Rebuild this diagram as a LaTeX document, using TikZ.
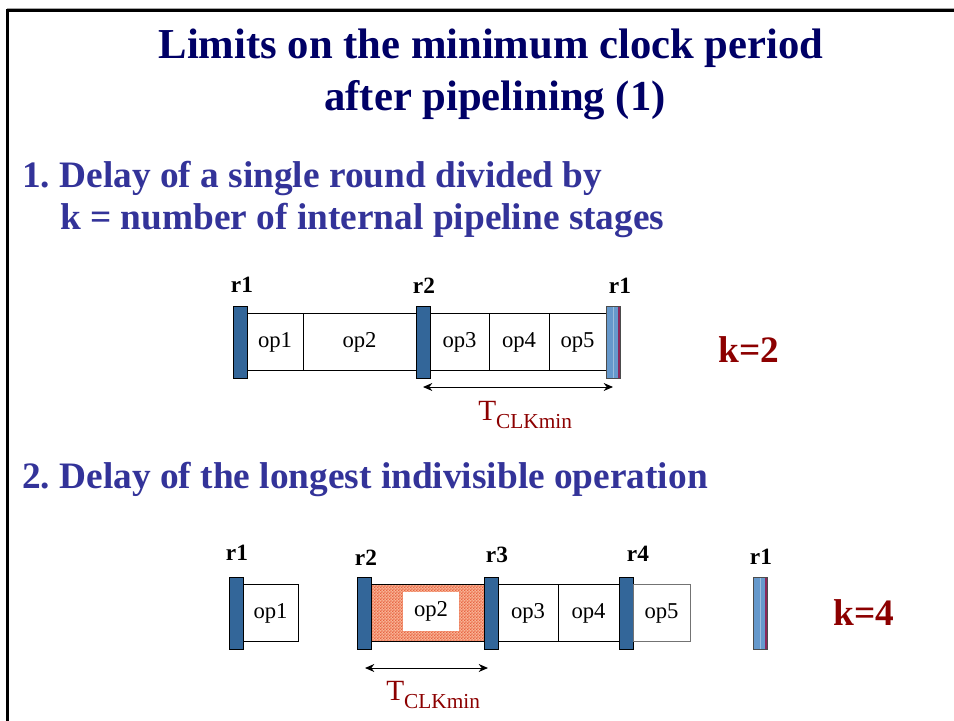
\documentclass[tikz,border=0pt]{standalone}
\usepackage{fontspec}
\setmainfont{Liberation Serif}
\usetikzlibrary{arrows.meta,patterns,positioning}
\definecolor{regblue}{RGB}{51,102,153}
\definecolor{reglight}{RGB}{102,153,204}
\definecolor{regstrip}{RGB}{140,40,90}
\definecolor{titleblue}{RGB}{0,0,102}
\definecolor{itemblue}{RGB}{51,51,153}
\definecolor{darkred}{RGB}{140,0,0}
\definecolor{hatchbg}{RGB}{248,180,150}
\definecolor{hatchfg}{RGB}{232,100,65}
\pgfdeclarepatternformonly{finechecker}{\pgfpointorigin}{\pgfqpoint{2.4pt}{2.4pt}}{\pgfqpoint{2.4pt}{2.4pt}}{%
  \pgfpathrectangle{\pgfpointorigin}{\pgfqpoint{1.2pt}{1.2pt}}%
  \pgfpathrectangle{\pgfqpoint{1.2pt}{1.2pt}}{\pgfqpoint{1.2pt}{1.2pt}}%
  \pgfusepath{fill}}
\newcommand{\tclk}{{\fontsize{22}{26}\selectfont T}\raisebox{-6pt}{\fontsize{16}{19}\selectfont CLKmin}}
\frenchspacing

\begin{document}
\begin{tikzpicture}[x=0.75pt,y=-0.75pt,
  reg/.style={draw=black,fill=regblue,line width=0.6pt,inner sep=0pt,outer sep=0pt,minimum width=10.5pt,minimum height=54pt,anchor=west},
  reglast/.style={reg,fill=reglight,draw=black!70,path picture={
      \fill[regstrip] ([xshift=-1.4pt]path picture bounding box.north east) rectangle (path picture bounding box.south east);
      \draw[white!35!reglight,line width=0.4pt] (path picture bounding box.north) -- (path picture bounding box.south);}},
  op/.style={draw=black,fill=white,line width=0.6pt,inner sep=0pt,outer sep=0pt,minimum height=42.75pt,anchor=west,font=\fontsize{17}{20}\selectfont},
  hatch/.style={draw=black,line width=0.6pt,inner sep=0pt,outer sep=0pt,minimum height=42.75pt,anchor=west,preaction={fill=hatchbg},pattern=finechecker,pattern color=hatchfg},
  reglabel/.style={anchor=base,inner sep=0pt,font=\fontsize{17.5}{20}\selectfont\bfseries},
  klabel/.style={anchor=base,inner sep=0pt,text=darkred,font=\fontsize{28}{32}\selectfont\bfseries},
  tlabel/.style={anchor=base west,inner sep=0pt,text=darkred},
  item/.style={anchor=base west,inner sep=0pt,text=itemblue,font=\fontsize{28}{32}\selectfont\bfseries},
  dim/.style={{Stealth[length=7pt,width=6pt]}-{Stealth[length=7pt,width=6pt]},line width=0.75pt}]
\useasboundingbox (0,0) rectangle (954,721);
\draw[black!35,line width=0.75pt] (7,8) -- (954,8);
\draw[line width=2.25pt] (7,721) -- (7,10) -- (954,10);
\node[anchor=base,inner sep=0pt,text=titleblue,font=\fontsize{32}{38}\selectfont\bfseries] (title1) at (491,58) {Limits on the minimum clock period};
\node[anchor=base,inner sep=0pt,text=titleblue,font=\fontsize{32}{38}\selectfont\bfseries] (title2) at (495,110) {after pipelining (1)};
\node[item] (item1) at (22,187) {1. Delay of a single round divided by};
\node[item] (item1b) at (60,229) {k = number of internal pipeline stages};
\node[item] (item2) at (22,488) {2. Delay of the longest indivisible operation};
% one round, two stages
\node[reg] (ar1) at (233,342) {};
\node[op,minimum width=42pt,right=0pt of ar1] (aop1) {op1};
\node[op,minimum width=84.75pt,right=0pt of aop1] (aop2) {op2};
\node[reg,right=0pt of aop2] (ar2) {};
\node[op,minimum width=44.25pt,right=0pt of ar2] (aop3) {op3};
\node[op,minimum width=45pt,right=0pt of aop3] (aop4) {op4};
\node[op,minimum width=42.75pt,right=0pt of aop4] (aop5) {op5};
\node[reglast,right=0pt of aop5] (ar1b) {};
\node[reglabel] (lar1) at (242,292) {r1};
\node[reglabel] (lar2) at (424,293) {r2};
\node[reglabel] (lar1b) at (620,293) {r1};
\coordinate (ta) at (423,387);
\coordinate (tb) at (613,387);
\draw[dim] (ta) -- (tb);
\node[tlabel] (tclka) at (478,420) {\tclk};
\node[klabel] (k2) at (749,362) {k=2};
% four stages
\node[reg] (br1) at (229,613) {};
\node[op,minimum width=41.25pt,right=0pt of br1] (bop1) {op1};
\node[reg] (br2) at (357,613) {};
\node[hatch,minimum width=84.75pt,right=0pt of br2] (bop2) {};
\node[fill=white,inner sep=0pt,minimum width=42pt,minimum height=29.25pt,font=\fontsize{17}{20}\selectfont] (bop2t) at (431,611.5) {op2};
\node[reg,right=0pt of bop2] (br3) {};
\node[op,minimum width=45pt,right=0pt of br3] (bop3) {op3};
\node[op,minimum width=45.75pt,right=0pt of bop3] (bop4) {op4};
\node[reg,right=0pt of bop4] (br4) {};
\node[op,draw=black!55,minimum width=42.75pt,right=0pt of br4] (bop5) {op5};
\node[reglast] (br1b) at (753,613) {};
\node[reglabel] (lbr1) at (237,560) {r1};
\node[reglabel] (lbr2) at (366,565) {r2};
\node[reglabel] (lbr3) at (497,562) {r3};
\node[reglabel] (lbr4) at (638,561) {r4};
\node[reglabel] (lbr1b) at (761,564) {r1};
\coordinate (tc) at (365,668);
\coordinate (td) at (488,668);
\draw[dim] (tc) -- (td);
\node[tlabel] (tclkb) at (386,700) {\tclk};
\node[klabel] (k4) at (864,625) {k=4};
\end{tikzpicture}
\end{document}
